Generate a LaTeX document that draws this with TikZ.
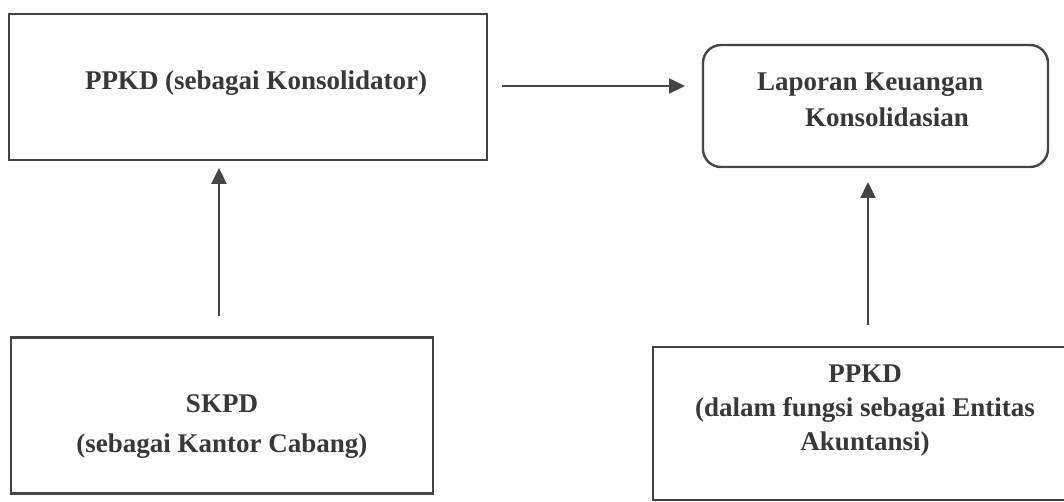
\documentclass[tikz,border=0pt]{standalone}
\usepackage{fontspec}
\setmainfont{Liberation Serif}
\usetikzlibrary{arrows.meta}
\definecolor{linec}{HTML}{454545}
\definecolor{textc}{HTML}{383838}
\begin{document}
\begin{tikzpicture}[x=1pt,y=-1pt,
  boxshape/.style={draw=linec, line width=2.4pt, inner sep=0pt, outer sep=0pt},
  roundbox/.style={boxshape, rounded corners=18pt},
  lbl/.style={text=textc, inner sep=0pt, font=\fontsize{27}{36}\selectfont\bfseries},
  arr/.style={draw=linec, line width=2.4pt, -{Triangle[length=16pt,width=15pt]}}]
\useasboundingbox (0,0) rectangle (1064,502);
\fill[white] (0,0) rectangle (1064,502);
% boxes
\node[boxshape, minimum width=478pt, minimum height=146pt] (a) at (248,87) {};
\node[roundbox, minimum width=345pt, minimum height=122pt] (b) at (875.5,106) {};
\node[boxshape, minimum width=422pt, minimum height=156pt] (c) at (222,415.5) {};
\node[boxshape, minimum width=430pt, minimum height=153pt] (d) at (868,423.5) {};
% texts
\node[lbl] (ta) at (256,83) {PPKD (sebagai Konsolidator)};
\node[lbl, align=left, anchor=west] (tb) at (757,100) {Laporan Keuangan\\\hspace*{48pt}Konsolidasian};
\node[lbl, align=center, font=\fontsize{27}{40}\selectfont\bfseries] (tc) at (222,427) {SKPD\\(sebagai Kantor Cabang)};
\node[lbl, align=center, font=\fontsize{27}{34}\selectfont\bfseries] (td) at (865,411) {PPKD\\(dalam fungsi sebagai Entitas\\Akuntansi)};
% connectors
\draw[arr, shorten <=15pt, shorten >=18pt] (a.east |- 0,86) -- (b.west |- 0,86);
\draw[arr, shorten <=22pt, shorten >=8pt] (c.north -| 219,0) -- (a.south -| 219,0);
\draw[arr, shorten <=22pt, shorten >=15pt] (d.north -| 868,0) -- (b.south -| 868,0);
\end{tikzpicture}
\end{document}
